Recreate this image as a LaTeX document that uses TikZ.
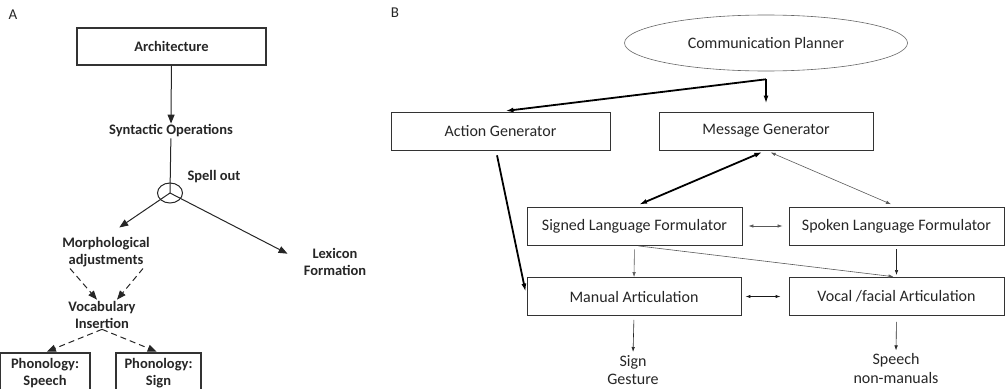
\documentclass[tikz,border=0pt]{standalone}
\usepackage{fontspec}
\setmainfont{Carlito}
\usetikzlibrary{arrows.meta, shapes.geometric}

\begin{document}
\begin{tikzpicture}[x=1pt, y=-1pt,
    abox/.style={draw=black!80, line width=1.2pt, font=\fontsize{14.5}{17}\selectfont\bfseries, text=black!85, align=center, inner sep=1pt},
    atext/.style={font=\fontsize{14.5}{17}\selectfont\bfseries, text=black!85, align=center, inner sep=1pt},
    aarrow/.style={draw=black!85, line width=1pt, -{Triangle[length=9pt,width=7pt]}},
    adash/.style={aarrow, dash pattern=on 6pt off 4pt},
    bbox/.style={draw=black!80, line width=0.9pt, minimum height=38, font=\fontsize{16}{19}\selectfont, text=black!85},
    btext/.style={font=\fontsize{16}{18.5}\selectfont, text=black!85, align=center, inner sep=1pt},
    boldlink/.style={draw=black, line width=1.8pt, -{Latex[length=8pt,width=5pt]}},
    thinlink/.style={draw=black!65, line width=0.6pt, -{Latex[length=5pt,width=3.5pt]}}]
\useasboundingbox (0,0) rectangle (1006,388);
\clip (0,0) rectangle (1006,388);

\node[font=\fontsize{15}{18}\selectfont, text=black!85] (labela) at (13,15) {A};
\node[font=\fontsize{15}{18}\selectfont, text=black!85] (labelb) at (395,13) {B};

\node[abox, minimum width=189, minimum height=37] (arch) at (171.5,46.5) {Architecture};
\node[atext] (synt) at (171,131) {Syntactic Operations};
\node[draw=black!85, line width=1pt, ellipse, minimum width=25, minimum height=20, inner sep=0] (spell) at (170,193) {};
\node[atext] (spelltxt) at (214,177) {Spell out};
\node[atext] (morph) at (106,252.5) {Morphological\\adjustments};
\node[atext] (lex) at (335,261.5) {Lexicon\\Formation};
\node[atext] (vocab) at (102,314.5) {Vocabulary\\Insertion};
\node[abox, minimum width=90, minimum height=41] (phspeech) at (45,373.5) {Phonology:\\Speech};
\node[abox, minimum width=85, minimum height=41] (phsign) at (158.5,373.5) {Phonology:\\Sign};

\draw[aarrow] (arch) -- (synt);
\draw[draw=black!85, line width=1pt] (synt) -- (spell.center);
\draw[aarrow, shorten >=16] (spell.center) -- (morph.north);
\draw[aarrow, shorten >=17] (spell.center) -- (lex.west);
\draw[adash] ([xshift=-36]morph.south) -- ([xshift=-5]vocab.north);
\draw[adash] ([xshift=37]morph.south) -- ([xshift=15]vocab.north);
\draw[adash, shorten >=2] (vocab.south) -- (phspeech.north);
\draw[adash, shorten >=2] (vocab.south) -- (phsign.north);

\node[draw=black!60, line width=0.6pt, ellipse, minimum width=283, minimum height=56, font=\fontsize{16}{19}\selectfont, text=black!85] (planner) at (766,43) {Communication Planner};
\node[bbox, minimum width=219] (action) at (500.5,131) {Action Generator};
\node[bbox, minimum width=214] (message) at (766,131) {Message Generator};
\node[bbox, minimum width=215] (signed) at (634.5,226) {Signed Language Formulator};
\node[bbox, minimum width=215] (spoken) at (896.5,226) {Spoken Language Formulator};
\node[bbox, minimum width=214] (manual) at (634,296.5) {Manual Articulation};
\node[bbox, minimum width=215] (vocal) at (896.5,296.5) {Vocal /facial Articulation};
\node[btext] (signout) at (633,370) {Sign\\Gesture};
\node[btext] (speechout) at (896,368.5) {Speech\\non-manuals};
\coordinate (split) at ([yshift=-8]planner.south);

\draw[boldlink, shorten >=5] (split) -- (action.north);
\draw[boldlink, shorten >=8] (split) -- (message.north);
\draw[boldlink, shorten <=5, shorten >=5] ([xshift=-4.5]action.south) -- (manual.west);
\draw[boldlink, {Latex[length=8pt,width=5pt]}-{Latex[length=8pt,width=5pt]}, shorten <=5, shorten >=4] (signed.north) -- (message.south);
\draw[thinlink, {Latex[length=5pt,width=3.5pt]}-{Latex[length=5pt,width=3.5pt]}, shorten <=5, shorten >=6] (message.south) -- (spoken.north);
\draw[thinlink, {Latex[length=5pt,width=3.5pt]}-{Latex[length=5pt,width=3.5pt]}, shorten <=6, shorten >=6] (signed.east) -- (spoken.west);
\draw[thinlink, draw=black!85, shorten <=4, shorten >=2] (spoken.south) -- (vocal.north);
\draw[thinlink, shorten <=4] (signed.south) -- (manual.north);
\draw[thinlink, shorten <=4, shorten >=3] (signed.south) -- (vocal.north);
\draw[thinlink, draw=black!90, line width=0.9pt, {Latex[length=5pt,width=3.5pt]}-{Latex[length=5pt,width=3.5pt]}, shorten <=4, shorten >=8] (manual.east) -- (vocal.west);
\draw[thinlink, draw=black!85, shorten <=4, shorten >=2] (manual.south) -- (signout.north);
\draw[thinlink, draw=black!85, shorten <=6, shorten >=2] (vocal.south) -- (speechout.north);

\end{tikzpicture}
\end{document}
